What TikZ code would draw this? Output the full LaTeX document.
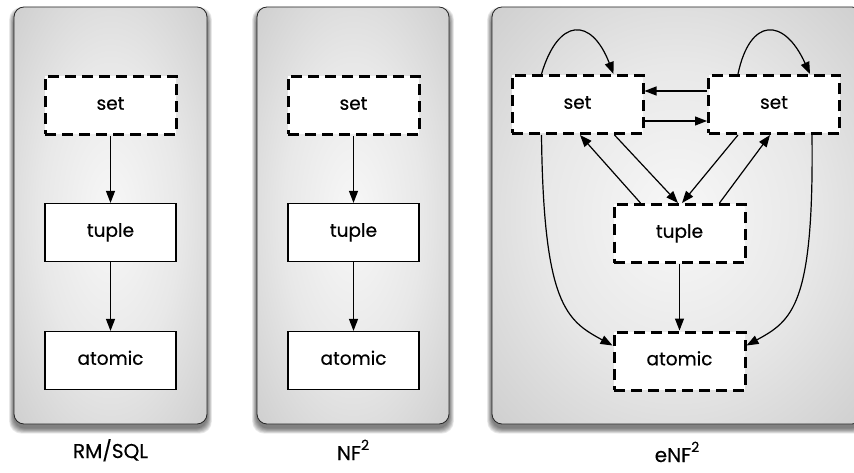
\documentclass[tikz,border=0pt]{standalone}
\usepackage{fontspec}
\setmainfont{Poppins}[FakeBold=0.4]
\usetikzlibrary{arrows.meta,calc}
\pgfdeclareradialshading{panelshade}{\pgfpoint{0bp}{0bp}}{color(0bp)=(black!3); color(18bp)=(black!9); color(50bp)=(black!27); color(72bp)=(black!36)}
\newcommand\drawpanel[4]{%
  \foreach \i in {1,...,8}{%
    \fill[black,opacity=0.08,rounded corners=12pt] (#1-\i*0.6,#2+5-\i*0.6) rectangle (#3+\i*0.6,#4+4+\i*0.7);
  }
  \shade[panel] (#1,#2) rectangle (#3,#4);
}
\newcommand\sqtwo{\raisebox{0.5em}{\fontsize{14}{14}\selectfont 2}}
\begin{document}
\begin{tikzpicture}[x=1pt,y=-1pt,
  panel/.style={draw=black!85,line width=0.8pt,rounded corners=10pt,shading=panelshade},
  solidbox/.style={draw=black,line width=1.2pt,fill=white,minimum width=131pt,minimum height=58pt,inner sep=0pt,
     text height=0.95em,text depth=0.1em,font=\fontsize{18.5}{20}\selectfont},
  dashbox/.style={solidbox,line width=3pt,dash pattern=on 11pt off 6pt},
  conn/.style={line width=1.2pt,-{Triangle[length=12pt,width=9pt]}},
  caption/.style={anchor=base,inner sep=0pt,font=\fontsize{20}{22}\selectfont}]
\useasboundingbox (0,0) rectangle (854,473);
\clip (0,0) rectangle (854,473);
\fill[white] (0,0) rectangle (854,473);

\drawpanel{14}{7}{207}{424}
\drawpanel{257}{7}{449}{424}
\drawpanel{492}{7}{862}{424}

% panel 1
\node[dashbox]  (s1) at (110.5,105.5) {set};
\node[solidbox] (t1) at (110.5,232.5) {tuple};
\node[solidbox] (a1) at (110.5,360.5) {atomic};
\draw[conn] (s1) -- (t1);
\draw[conn] (t1) -- (a1);
\node[caption] (c1) at (110.5,458) {RM/SQL};

% panel 2
\node[dashbox]  (s2) at (353.5,105.5) {set};
\node[solidbox] (t2) at (353.5,232.5) {tuple};
\node[solidbox] (a2) at (353.5,360.5) {atomic};
\draw[conn] (s2) -- (t2);
\draw[conn] (t2) -- (a2);
\node[caption] (c2) at (353,460) {NF\sqtwo};

% panel 3
\node[dashbox] (sL) at (577.5,104.5) {set};
\node[dashbox] (sR) at (774,104.5) {set};
\node[dashbox] (tu) at (679.5,233.5) {tuple};
\node[dashbox] (at) at (679.5,361) {atomic};
\node[caption] (c3) at (677,462) {eNF\sqtwo};

% self loops
\draw[conn] ($(sL.north west)+(31,0)$) .. controls ($(sL.north west)+(48,-57)$) and ($(sL.north east)+(-53,-57)$) .. ($(sL.north east)+(-31,0)$);
\draw[conn] ($(sR.north west)+(31,0)$) .. controls ($(sR.north west)+(43,-57)$) and ($(sR.north east)+(-57,-57)$) .. ($(sR.north east)+(-31,0)$);

% horizontal
\draw[conn] ($(sR.north west)+(0,17)$) -- ($(sL.north east)+(0,17)$);
\draw[conn] ($(sL.south east)+(0,-14)$) -- ($(sR.south west)+(0,-14)$);

% diagonals
\draw[conn] ($(tu.north west)+(28,0)$) -- ($(sL.south)+(2.5,0)$);
\draw[conn] ($(sL.south east)+(-30,0)$) -- ($(tu.north)+(-1.5,0)$);
\draw[conn] ($(sR.south west)+(31,0)$) -- ($(tu.north)+(2.5,0)$);
\draw[conn] ($(tu.north east)+(-27,0)$) -- ($(sR.south)+(-4,0)$);

% to atomic
\draw[conn] ($(sL.south west)+(31,0)$) .. controls ($(sL.south west)+(33,170)$) and ($(at.north west)+(-46,-10)$) .. ($(at.north west)+(0,15)$);
\draw[conn] ($(sR.south east)+(-29,0)$) .. controls ($(sR.south east)+(-27,170)$) and ($(at.north east)+(46,-10)$) .. ($(at.north east)+(0,15)$);
\draw[conn] (tu) -- (at);
\end{tikzpicture}
\end{document}
